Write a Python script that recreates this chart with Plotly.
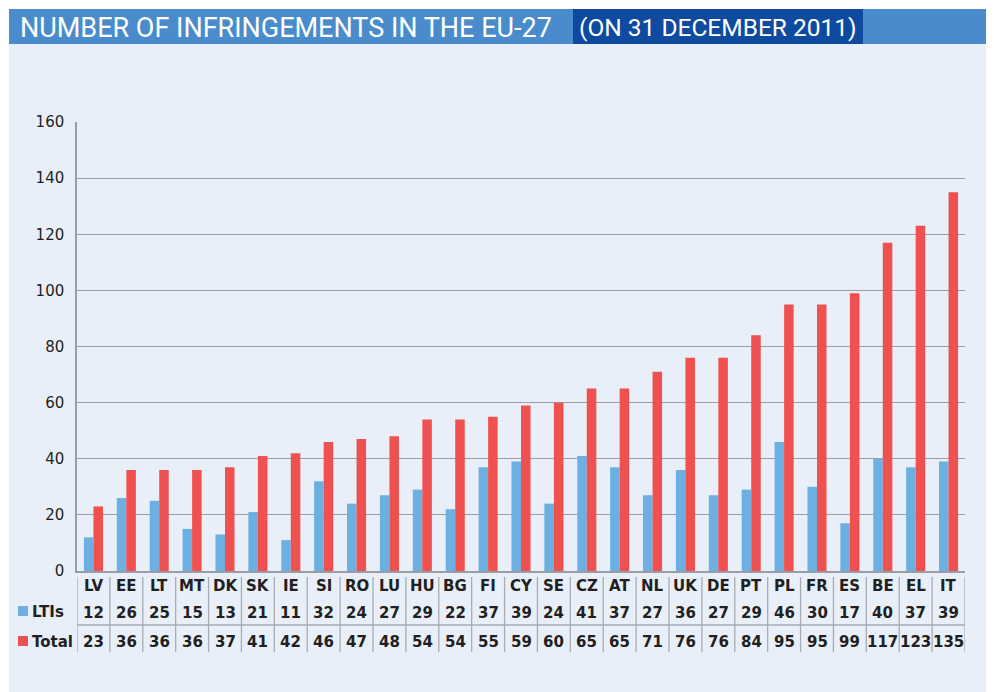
import plotly.graph_objects as go

countries = ["LV","EE","LT","MT","DK","SK","IE","SI","RO","LU","HU","BG","FI","CY","SE","CZ","AT","NL","UK","DE","PT","PL","FR","ES","BE","EL","IT"]
ltis = [12,26,25,15,13,21,11,32,24,27,29,22,37,39,24,41,37,27,36,27,29,46,30,17,40,37,39]
total = [23,36,36,36,37,41,42,46,47,48,54,54,55,59,60,65,65,71,76,76,84,95,95,99,117,123,135]
y_ticks = [0,20,40,60,80,100,120,140,160]
title_main = "NUMBER OF INFRINGEMENTS IN THE EU-27"
title_sub = "(ON 31 DECEMBER 2011)"

BLUE = "#6cb0e2"
RED = "#ef5150"

# page offset (default body margin of the html page)
OX, OY = 8, 8
W, H = 994 - OX, 692 - OY
# plot area in page pixels
PX0, PX1, PY0, PY1 = 77, 965, 122, 571
L, R, T, B = PX0 - OX, W - (PX1 - OX), PY0 - OY, H - (PY1 - OY)
PW = PX1 - PX0
PH = PY1 - PY0


def px(x):
    return (x - PX0) / PW


def py(y):
    return (PY1 - y) / PH


fig = go.Figure()
fig.add_trace(go.Bar(x=countries, y=ltis, name="LTIs", marker=dict(color=BLUE, line=dict(width=0))))
fig.add_trace(go.Bar(x=countries, y=total, name="Total", marker=dict(color=RED, line=dict(width=0))))

shapes = []
shapes.append(dict(type="rect", xref="paper", yref="paper", x0=px(9), x1=px(992), y0=py(700), y1=py(44),
                   fillcolor="#e8eff8", line=dict(width=0), layer="below"))
shapes.append(dict(type="rect", xref="paper", yref="paper", x0=px(9), x1=px(992), y0=py(44), y1=py(9),
                   fillcolor="#4a8ccb", line=dict(width=0), layer="below"))
shapes.append(dict(type="rect", xref="paper", yref="paper", x0=px(573), x1=px(863), y0=py(44), y1=py(9),
                   fillcolor="#0d4aa0", line=dict(width=0), layer="below"))

n = len(countries)
for i in range(n + 1):
    shapes.append(dict(type="line", xref="x", yref="paper", x0=i - 0.5, x1=i - 0.5, y0=py(577), y1=py(652),
                       line=dict(color="#a8acb2", width=1.3)))
shapes.append(dict(type="line", xref="paper", yref="paper", x0=0, x1=1, y0=py(625), y1=py(625),
                   line=dict(color="#a8acb2", width=1.3)))
shapes.append(dict(type="rect", xref="paper", yref="paper", x0=px(18), x1=px(28), y0=py(616), y1=py(606),
                   fillcolor=BLUE, line=dict(width=0)))
shapes.append(dict(type="rect", xref="paper", yref="paper", x0=px(18), x1=px(28), y0=py(646), y1=py(636),
                   fillcolor=RED, line=dict(width=0)))

ann = []
tf = "Roboto, Liberation Sans Narrow, sans-serif"
ann.append(dict(text=title_main, xref="paper", yref="paper", x=px(18), y=py(28), xanchor="left", yanchor="middle",
                showarrow=False, font=dict(family=tf, size=27, color="white")))
ann.append(dict(text=title_sub, xref="paper", yref="paper", x=px(718), y=py(28), xanchor="center", yanchor="middle",
                showarrow=False, font=dict(family=tf, size=24.5, color="white")))

tfont = dict(family="DejaVu Sans, Verdana, sans-serif", size=15, color="#231f20")
for i, c in enumerate(countries):
    ann.append(dict(text="<b>%s</b>" % c, xref="x", yref="paper", x=i, y=py(586), showarrow=False, font=tfont,
                    xanchor="center", yanchor="middle"))
    ann.append(dict(text="<b>%d</b>" % ltis[i], xref="x", yref="paper", x=i, y=py(613), showarrow=False, font=tfont,
                    xanchor="center", yanchor="middle"))
    ann.append(dict(text="<b>%d</b>" % total[i], xref="x", yref="paper", x=i, y=py(642), showarrow=False, font=tfont,
                    xanchor="center", yanchor="middle"))
ann.append(dict(text="<b>LTIs</b>", xref="paper", yref="paper", x=px(30), y=py(612), showarrow=False, font=tfont,
                xanchor="left", yanchor="middle"))
ann.append(dict(text="<b>Total</b>", xref="paper", yref="paper", x=px(30), y=py(642), showarrow=False, font=tfont,
                xanchor="left", yanchor="middle"))

fig.update_layout(
    width=W, height=H,
    margin=dict(l=L, r=R, t=T, b=B, pad=0),
    paper_bgcolor="white",
    plot_bgcolor="rgba(0,0,0,0)",
    barmode="group",
    bargap=0.42,
    bargroupgap=0,
    showlegend=False,
    shapes=shapes,
    annotations=ann,
    xaxis=dict(showticklabels=False, showgrid=False, showline=True, linecolor="#9a9ea4", linewidth=1.5,
               ticks="", range=[-0.5, n - 0.5], fixedrange=True),
    yaxis=dict(range=[0, 160], tickvals=y_ticks, showgrid=True, gridcolor="#9a9ea4", gridwidth=1.3,
               showline=True, linecolor="#9a9ea4", linewidth=1.5, ticks="", zeroline=False, fixedrange=True,
               tickfont=dict(family="DejaVu Sans, Verdana, sans-serif", size=15, color="#231f20"), ticklabelstandoff=8),
)

fig.write_html("out.html")
